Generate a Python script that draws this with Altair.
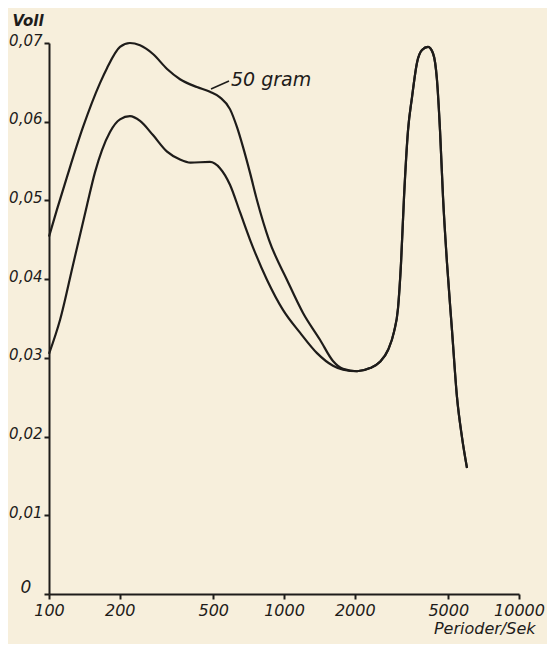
import altair as alt
import pandas as pd

# Upper curve ("50 gram") up to where both curves merge
freq_upper = [100, 108, 119.3, 139.5, 164.8, 176.5, 200.5, 221, 244, 277, 318, 361, 426, 484, 534,
              589, 631, 669, 717, 768, 863, 1030, 1205, 1423, 1616, 1783]
val_upper = [0.0454, 0.0488, 0.0530, 0.0593, 0.0649, 0.0668, 0.0695, 0.0700, 0.0697, 0.0686, 0.0667,
             0.0654, 0.0644, 0.0638, 0.0631, 0.0616, 0.0593, 0.0568, 0.0535, 0.0500, 0.0450, 0.0399,
             0.0357, 0.0323, 0.0296, 0.0286]

# Lower curve up to where both curves merge
freq_lower = [100, 111.4, 126.5, 145.1, 157, 168.1, 181.8, 200.5, 221, 244, 277, 318, 361, 400, 484,
              534, 589, 650, 717, 847, 990, 1170, 1382, 1616, 1783]
val_lower = [0.0305, 0.0348, 0.0418, 0.0494, 0.0536, 0.0564, 0.0587, 0.0603, 0.0607, 0.0601, 0.0583,
             0.0562, 0.0552, 0.0548, 0.0549, 0.0541, 0.0520, 0.0485, 0.0450, 0.0399, 0.0361, 0.0332,
             0.0306, 0.0290, 0.0285]

# Common part of both curves (minimum and second peak)
freq_tail = [2045, 2323, 2562, 2771, 2938, 3056, 3147, 3241, 3371, 3505, 3681, 3866, 4101, 4305,
             4477, 4612, 4750, 4940, 5187, 5447, 5721, 6008]
val_tail = [0.0283, 0.0287, 0.0295, 0.0310, 0.0333, 0.0363, 0.0420, 0.0504, 0.0589, 0.0631, 0.0675,
            0.0691, 0.0695, 0.0687, 0.0653, 0.0589, 0.0504, 0.0420, 0.0335, 0.0250, 0.0199, 0.0160]

x_ticks = [100, 200, 500, 1000, 2000, 5000, 10000]
y_ticks = [0, 0.01, 0.02, 0.03, 0.04, 0.05, 0.06, 0.07]

rows = []
for name, fs, vs in [("upper", freq_upper + freq_tail, val_upper + val_tail),
                     ("lower", freq_lower + freq_tail, val_lower + val_tail)]:
    for i, (f, v) in enumerate(zip(fs, vs)):
        rows.append({"series": name, "order": i, "f": f, "v": v})
df = pd.DataFrame(rows)

FONT = "DejaVu Sans"
INK = "#1e1c1a"

lines = alt.Chart(df).mark_line(
    color=INK, strokeWidth=2.2, interpolate="monotone"
).encode(
    x=alt.X("f:Q", scale=alt.Scale(type="log", domain=[100, 10000], nice=False),
            axis=alt.Axis(values=x_ticks, format="d", title="Perioder/Sek",
                          titleAlign="right", titleX=486, titleY=34, titleAnchor="start",
                          titleBaseline="middle",
                          titleFont=FONT, titleFontStyle="italic", titleFontSize=16,
                          titleFontWeight="normal", titleColor=INK,
                          labelFont=FONT, labelFontStyle="italic", labelFontSize=16,
                          labelColor=INK, labelPadding=3, tickSize=5, tickWidth=2,
                          tickColor=INK, domainColor=INK, domainWidth=2, grid=False,
                          labelFlush=False, labelOverlap=False)),
    y=alt.Y("v:Q", scale=alt.Scale(domain=[0, 0.07], nice=False, zero=True),
            axis=alt.Axis(values=y_ticks, title="Voll",
                          labelExpr="datum.value == 0 ? '' : replace(format(datum.value, '.2f'), '.', ',')",
                          titleAngle=0, titleAlign="left", titleX=-37, titleY=-23,
                          titleBaseline="middle",
                          titleFont=FONT, titleFontStyle="italic", titleFontSize=15,
                          titleFontWeight="bold", titleColor=INK,
                          labelFont=FONT, labelFontStyle="italic", labelFontSize=15,
                          labelColor=INK, labelPadding=2, labelBaseline="middle",
                          labelOffset=-3,
                          tickSize=5, tickWidth=2,
                          tickColor=INK, domainColor=INK, domainWidth=2, grid=False,
                          labelFlush=False, labelOverlap=False)),
    detail="series:N",
    order="order:Q",
)

label = alt.Chart(pd.DataFrame({"t": ["50 gram"]})).mark_text(
    font=FONT, fontStyle="italic", fontSize=19, color=INK, align="left", baseline="middle"
).encode(text="t:N", x=alt.value(182), y=alt.value(37))

pointer = alt.Chart(pd.DataFrame({"t": ["50 gram"]})).mark_rule(
    color=INK, strokeWidth=1.6
).encode(x=alt.value(162), x2=alt.value(180), y=alt.value(46), y2=alt.value(38))

zero_label = alt.Chart(pd.DataFrame({"t": ["0"]})).mark_text(
    font=FONT, fontStyle="italic", fontSize=17, color=INK, align="center", baseline="middle"
).encode(text="t:N", x=alt.value(-23), y=alt.value(545))

chart = alt.layer(lines, pointer, label, zero_label).properties(
    width=470, height=551,
    autosize=alt.AutoSizeParams(type="none"),
    padding={"left": 41, "top": 35, "right": 28, "bottom": 50},
    background="#f7efdc",
).configure_view(stroke=None)

chart.save("out.html", embed_options={"renderer": "svg", "actions": False})
